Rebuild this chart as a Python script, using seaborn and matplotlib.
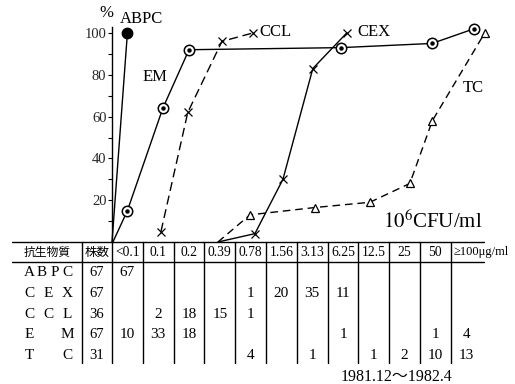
import numpy as np
import pandas as pd
import matplotlib
matplotlib.use("Agg")
import matplotlib.pyplot as plt
import seaborn as sns

# ---------------- data ----------------
# cumulative % curves (x = MIC column position, y = cumulative %)
abpc_x = [-0.5, 0.0]
abpc_y = [0, 100]
em_x = [-0.47, 0.0, 1.15, 2.0, 6.93, 9.89, 11.25]
em_y = [0, 15, 64, 92, 93, 95, 102]
ccl_x = [1.09, 1.96, 3.07, 4.07]
ccl_y = [5, 62, 96, 100]
cex_x = [2.94, 4.14, 5.05, 6.02, 7.12]
cex_y = [0, 4, 30, 83, 100]
tc_x = [2.94, 3.98, 6.09, 7.87, 9.17, 9.9, 11.6]
tc_y = [0, 13, 16.5, 19, 28, 58, 100]

# table
mic_cols = ["<0.1", "0.1", "0.2", "0.39", "0.78", "1.56", "3.13", "6.25",
            "12.5", "25", "50", "≥100μg/ml"]
drugs = ["ABPC", "CEX", "CCL", "EM", "TC"]
strains = [67, 67, 36, 67, 31]
tbl_abpc = [67, None, None, None, None, None, None, None, None, None, None, None]
tbl_cex = [None, None, None, None, 1, 20, 35, 11, None, None, None, None]
tbl_ccl = [None, 2, 18, 15, 1, None, None, None, None, None, None, None]
tbl_em = [10, 33, 18, None, None, None, None, 1, None, None, 1, 4]
tbl_tc = [None, None, None, None, 4, None, 1, None, 1, 2, 10, 13]
period = "1981.12～1982.4"

# ---------------- style ----------------
sns.set_theme(style="white")
serif = ["Liberation Serif", "DejaVu Serif", "Noto Sans CJK JP"]
plt.rcParams["font.family"] = serif
plt.rcParams["mathtext.fontset"] = "stix"
plt.rcParams["text.color"] = "black"

W, H = 515, 384
fig = plt.figure(figsize=(W / 100, H / 100), dpi=100)
fig.patch.set_facecolor("white")

colw = 30.8          # px per MIC column
left_px = 112        # x = -0.5
base_px = 242        # y = 0
ypx = 2.09           # px per percent
xmin, xmax = -0.5, 12.0
ymax = 103

ax = fig.add_axes([left_px / W, (H - base_px) / H,
                   (xmax - xmin) * colw / W, ymax * ypx / H])
ax.set_facecolor("none")
ax.set_xlim(xmin, xmax)
ax.set_ylim(0, ymax)

lw = 1.0
def line(xs, ys, ls):
    df = pd.DataFrame({"x": xs, "y": ys})
    sns.lineplot(data=df, x="x", y="y", ax=ax, color="black", lw=lw,
                 linestyle=ls, sort=False, estimator=None, clip_on=False)

line(abpc_x, abpc_y, "-")
line(em_x, em_y, "-")
line(ccl_x, ccl_y, (0, (6.5, 3.5)))
line(cex_x, cex_y, "-")
line(tc_x, tc_y, (0, (5.5, 3.5)))

# markers
ax.plot(abpc_x[1:], abpc_y[1:], "o", ms=7.5, color="black", clip_on=False, zorder=5)
ax.plot(em_x[1:], em_y[1:], "o", ms=7.5, mfc="white", mec="black", mew=1.1,
        clip_on=False, zorder=5)
ax.plot(em_x[1:], em_y[1:], "o", ms=2.2, color="black", clip_on=False, zorder=6)
ax.plot(ccl_x, ccl_y, "x", ms=6, mew=0.9, color="black", clip_on=False, zorder=5)
ax.plot(cex_x[1:], cex_y[1:], "x", ms=6, mew=0.9, color="black", clip_on=False, zorder=5)
ax.plot(tc_x[1:], tc_y[1:], "^", ms=6, mfc="white", mec="black", mew=0.9,
        clip_on=False, zorder=5)

for s in ["top", "right", "bottom"]:
    ax.spines[s].set_visible(False)
ax.spines["left"].set_linewidth(1.0)
ax.spines["left"].set_color("black")
ax.set_xticks([])
ax.set_yticks([20, 40, 60, 80, 100])
ax.set_yticks([10, 30, 50, 70, 90], minor=True)
ax.tick_params(axis="y", which="both", direction="out", length=3, width=0.8,
               left=True, labelsize=10.5, pad=1, color="black")
ax.set_xlabel("")
ax.set_ylabel("")

fs = 12
ax.text(-0.67, 109.5, "%", fontsize=12, ha="center", va="center", clip_on=False)
ax.text(-0.25, 106.5, "ABPC", fontsize=fs, ha="left", va="center", clip_on=False)
ax.text(0.89, 79, "EM", fontsize=fs, ha="center", va="center")
ax.text(4.3, 100.5, "CCL", fontsize=fs, ha="left", va="center", clip_on=False)
ax.text(7.48, 100.5, "CEX", fontsize=fs, ha="left", va="center", clip_on=False)
ax.text(10.89, 73.7, "TC", fontsize=fs, ha="left", va="center")
ax.text(8.29, 9.6, r"$10^6$CFU/ml", fontsize=15, ha="left", va="center")

# ---------------- table ----------------
tx = fig.add_axes([left_px / W, (H - 364) / H, (xmax - xmin) * colw / W, 122 / H])
tx.set_xlim(xmin, xmax)
tx.set_ylim(122, 0)
tx.axis("off")

x_tbl_left = -3.75
x_tbl_right = 11.57
x_strain_b = -1.47
tlw = 1.0
for yy in (0, 20):
    tx.plot([x_tbl_left, x_tbl_right], [yy, yy], color="black", lw=tlw, clip_on=False)
bounds = [x_strain_b] + [k - 0.5 for k in range(len(mic_cols))]
for b in bounds:
    tx.plot([b, b], [0, 121], color="black", lw=tlw, clip_on=False)

hy = 10
tx.text(-2.61, hy, "抗生物質", fontsize=8.5, ha="center", va="center",
        family=["Noto Sans CJK JP"], clip_on=False)
tx.text(-0.99, hy, "株数", fontsize=9, ha="center", va="center",
        family=["Noto Sans CJK JP"], clip_on=False)
for k, lab in enumerate(mic_cols):
    if k == len(mic_cols) - 1:
        tx.text(k - 0.42, hy, lab, fontsize=9, ha="left", va="center", clip_on=False)
    else:
        tx.text(k, hy, lab, fontsize=9.8, ha="center", va="center")

rows = [tbl_abpc, tbl_cex, tbl_ccl, tbl_em, tbl_tc]
row_y = [31 + 20.6 * i for i in range(len(drugs))]
lab_l, lab_r = -3.18, -1.95
for i, (name, n, vals) in enumerate(zip(drugs, strains, rows)):
    y = row_y[i]
    chars = list(name)
    pos = np.linspace(lab_l, lab_r, len(chars))
    for c, p in zip(chars, pos):
        tx.text(p, y, c, fontsize=11, ha="center", va="center", clip_on=False)
    tx.text(-0.99, y, str(n), fontsize=10.5, ha="center", va="center", clip_on=False)
    for k, v in enumerate(vals):
        if v is not None:
            tx.text(k, y, str(v), fontsize=11, ha="center", va="center")

fig.text(397 / W, 1 - 377 / H, period, fontsize=11.5, ha="center", va="center",
         family=serif)

fig.savefig("out.png", dpi=100, facecolor="white")
